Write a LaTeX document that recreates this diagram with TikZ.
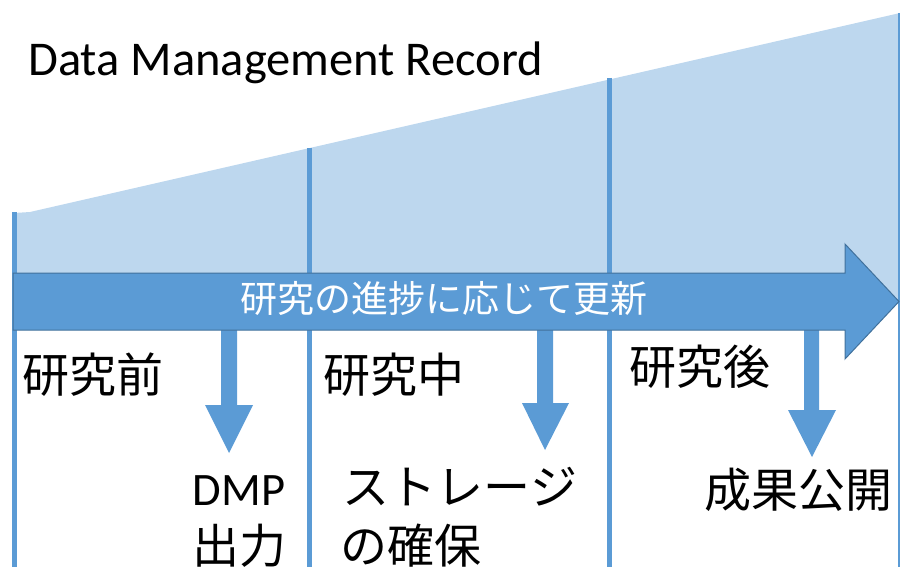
\documentclass[tikz,border=0pt]{standalone}
\usepackage{fontspec}
\setmainfont{Carlito}
\newfontfamily\jpfont{Noto Sans CJK JP}
\definecolor{lightfill}{HTML}{BDD7EE}
\definecolor{mainblue}{HTML}{5B9BD5}
\definecolor{edgeblue}{HTML}{41719C}
\begin{document}
\begin{tikzpicture}[x=1pt,y=-1pt,
  jp/.style={inner sep=0pt, font=\jpfont\fontsize{47}{55}\selectfont},
  lat/.style={inner sep=0pt, font=\fontsize{47}{55}\selectfont},
  bar/.style={draw=mainblue, line width=5pt},
  downarrow/.style={fill=mainblue, draw=none}]
\useasboundingbox (0,0) rectangle (900,567);
% light background wedge
\fill[lightfill] (14,213) -- (30,212) -- (900,13) -- (900,301) -- (14,301) -- cycle;
% vertical bars
\draw[bar] (14.5,212) -- (14.5,567);
\draw[bar] (309,148) -- (309,567);
\draw[bar] (609.5,78) -- (609.5,567);
\draw[mainblue, line width=1.5pt] (899.2,13) -- (899.2,567);
% small down arrows
\fill[downarrow] (221,325) -- (237,325) -- (237,405) -- (253,405) -- (229,453) -- (205,405) -- (221,405) -- cycle;
\fill[downarrow] (537,325) -- (553,325) -- (553,403) -- (569,403) -- (545,450) -- (522,403) -- (537,403) -- cycle;
\fill[downarrow] (804,325) -- (819,325) -- (819,410) -- (836,410) -- (812,457) -- (788,410) -- (804,410) -- cycle;
% big arrow
\filldraw[fill=mainblue, draw=edgeblue, line width=1pt]
  (13,273) -- (845,273) -- (845,244) -- (899,301.5) -- (845,359) -- (845,330) -- (13,330) -- cycle;
\node[inner sep=0pt, text=white, font=\jpfont\fontsize{37}{44}\selectfont] (progress) at (443.5,298) {研究の進捗に応じて更新};
% title
\node[lat, anchor=base west, font=\fontsize{48.5}{55}\selectfont] (title) at (28,76) {Data Management Record};
% phase labels
\node[jp] (before) at (93.5,375) {研究前};
\node[jp] (during) at (394,375) {研究中};
\node[jp] (after) at (700,367) {研究後};
% outputs
\node[lat, anchor=base, font=\fontsize{46.5}{55}\selectfont] (dmp) at (239,505) {DMP};
\node[jp] (output) at (239,546) {出力};
\node[jp] (storage) at (460,487) {ストレージ};
\node[jp] (secure) at (411,546) {の確保};
\node[jp] (publish) at (798,490) {成果公開};
\end{tikzpicture}
\end{document}
